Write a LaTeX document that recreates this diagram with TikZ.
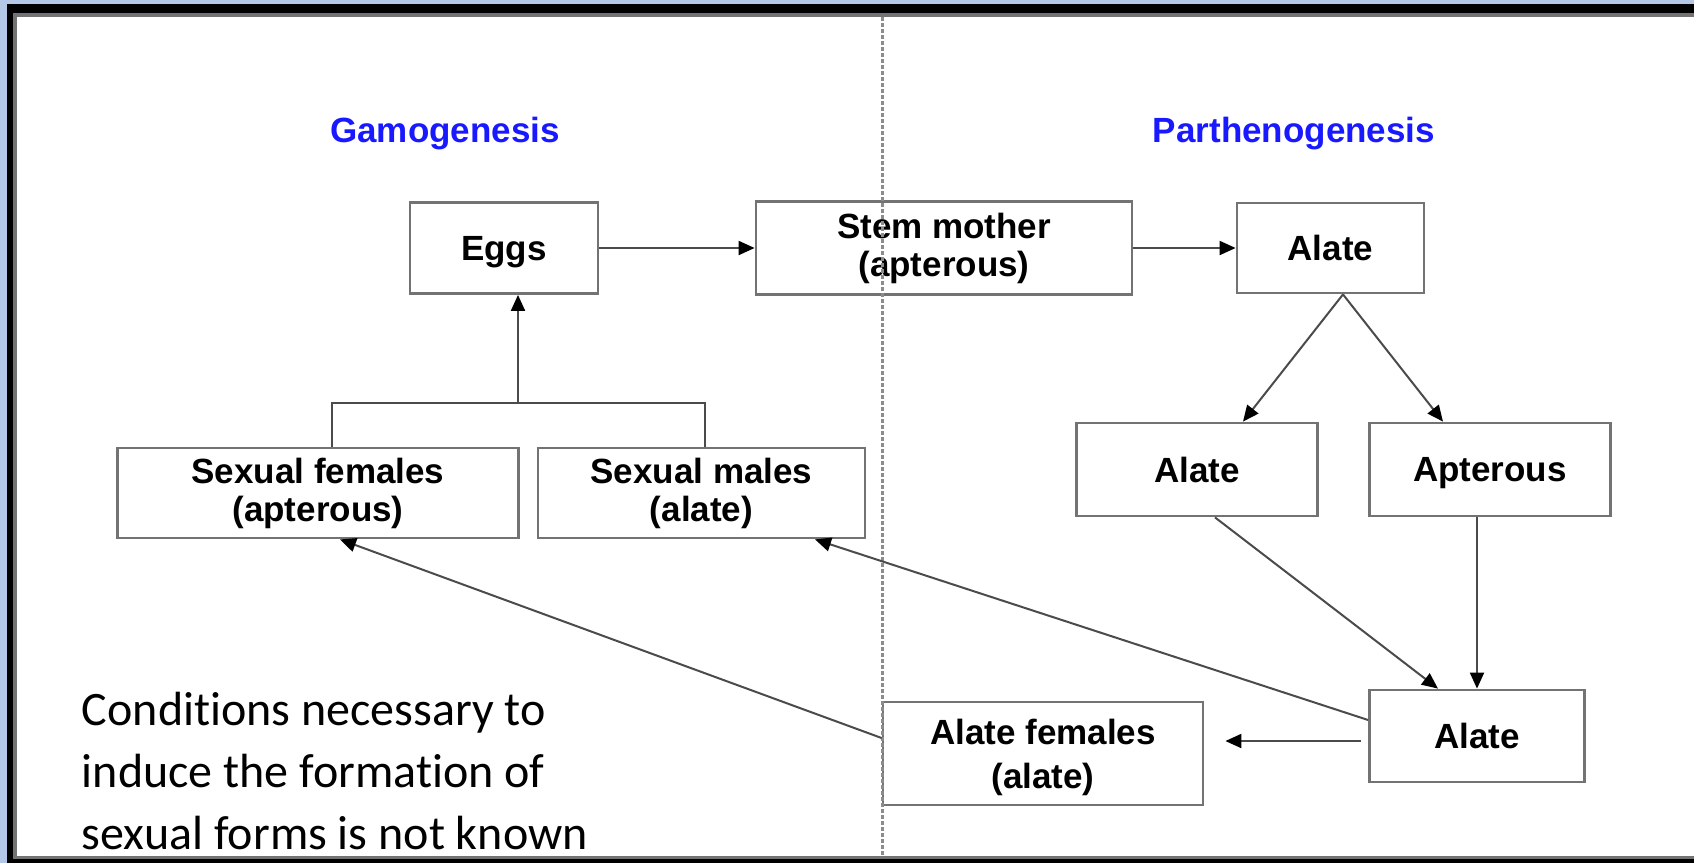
\documentclass[tikz,border=0pt]{standalone}
\usepackage{fontspec}
\setmainfont{Liberation Sans}
\newfontfamily\notefont[Ligatures=NoCommon]{Carlito}
\usetikzlibrary{arrows.meta}

\definecolor{framebg}{RGB}{180,199,231}
\definecolor{boxline}{RGB}{115,115,115}
\definecolor{linkline}{RGB}{75,75,75}
\definecolor{headblue}{RGB}{25,25,255}

\begin{document}
\begin{tikzpicture}[x=0.5pt,y=-0.5pt,>={Triangle[length=8pt,width=7pt,color=black]},line width=1pt]
  \tikzstyle{stage}=[draw=boxline,line width=1.4pt,fill=white,align=center,inner sep=0pt,
                     font=\bfseries\fontsize{17.5}{19}\selectfont]
  \tikzstyle{head}=[text=headblue,font=\bfseries\fontsize{17.5}{19}\selectfont]
  \tikzstyle{link}=[draw=linkline,line width=1pt]
  \tikzstyle{every edge}=[link]

  % frame
  \useasboundingbox (0,0) rectangle (1694,863);
  \fill[framebg] (0,0) rectangle (1694,863);
  \fill[black] (7,4) rectangle (1694,863);
  \fill[black!55] (13,13) rectangle (1694,859);
  \fill[white] (17,17) rectangle (1694,856);

  \node[head] (gamo)   at (445,134)  {Gamogenesis};
  \node[head] (parth)  at (1294,134) {Parthenogenesis};

  \node[stage,minimum width=94pt,minimum height=45.5pt,text depth=0pt] (eggs) at (504,248) {Eggs};
  \node[stage,minimum width=188pt,minimum height=46.5pt]   (stem)    at (944,248)    {Stem mother\\(apterous)};
  \node[stage,minimum width=93.5pt,minimum height=45pt]    (alate)   at (1330.5,248) {Alate};
  \node[stage,minimum width=120.5pt,minimum height=46.5pt] (alateL)  at (1197,469.5) {Alate};
  \node[stage,minimum width=120.5pt,minimum height=46.5pt,text depth=0pt] (apter) at (1490,469.5) {Apterous};
  \node[stage,minimum width=107.5pt,minimum height=46pt]   (alateB)  at (1477,736)   {Alate};
  \node[stage,minimum width=160pt,minimum height=51.5pt,font=\bfseries\fontsize{17.5}{22}\selectfont]
                                                            (alateF)  at (1043,753.5) {\rule{0pt}{16.6pt}Alate females\\(alate)};
  \node[stage,minimum width=200.5pt,minimum height=45pt]   (sexfem)  at (318,493)    {Sexual females\\(apterous)};
  \node[stage,minimum width=163.5pt,minimum height=45pt]   (sexmale) at (701.5,493)  {Sexual males\\(alate)};

  \node[font=\notefont\fontsize{24}{31}\selectfont,align=left,anchor=base west,inner sep=0pt] (note) at (81,849)
    {Conditions necessary to\\induce the formation of\\sexual forms is not known};

  % divider
  \draw[draw=black!45,line width=1.5pt,dash pattern=on 2pt off 1pt] (882,17) -- (882,856);

  % sexual forms to eggs
  \coordinate (join) at (518,403);
  \draw[link] ([xshift=7pt]sexfem.north) |- (join) -| ([xshift=1.75pt]sexmale.north);
  \draw[link,->] (join) -- ([xshift=7pt]eggs.south);

  \path[->] (eggs.east) edge (stem.west)
            (stem.east) edge (alate.west)
            ([xshift=6.25pt]alate.south) edge ([xshift=23pt]alateL.north)
            ([xshift=6.25pt]alate.south) edge ([xshift=-23.5pt]apter.north)
            ([xshift=9pt]alateL.south) edge ([xshift=-19.5pt]alateB.north)
            ([xshift=-6.5pt]apter.south) edge (alateB.north)
            ([xshift=-3.5pt,yshift=-2.5pt]alateB.west) edge ([xshift=10.5pt,yshift=6.25pt]alateF.east)
            ([yshift=8pt]alateB.west) edge ([xshift=56.75pt]sexmale.south)
            ([yshift=7.75pt]alateF.west) edge ([xshift=11pt]sexfem.south);
\end{tikzpicture}
\end{document}
